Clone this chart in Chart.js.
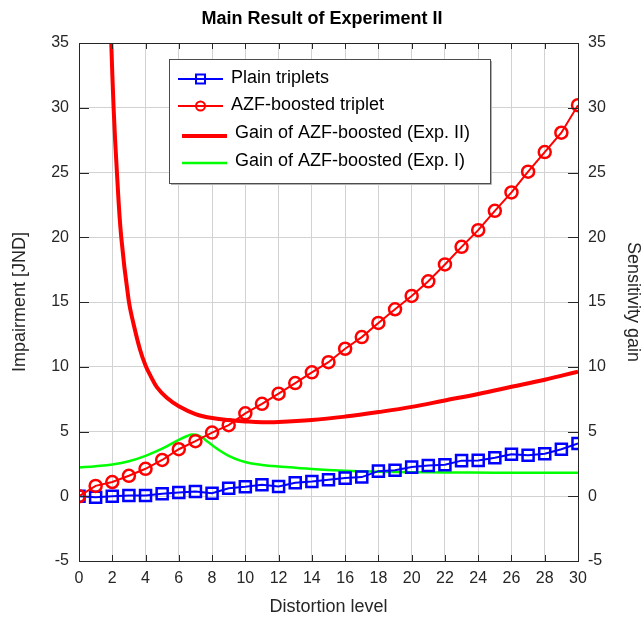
<!DOCTYPE html>
<html>
<head>
<meta charset="utf-8">
<title>Main Result of Experiment II</title>
<script src="https://cdn.jsdelivr.net/npm/chart.js@4.4.1/dist/chart.umd.min.js"></script>
<style>
  html, body { margin: 0; padding: 0; background: #fff; }
  #wrap { width: 644px; height: 617px; position: relative; }
</style>
</head>
<body>
<div id="wrap"><canvas id="resultChart"></canvas></div>
<script>
// distortion levels tested
const levels = [0, 1, 2, 3, 4, 5, 6, 7, 8, 9, 10, 11, 12, 13, 14, 15, 16, 17, 18, 19, 20, 21, 22, 23, 24, 25, 26, 27, 28, 29, 30];

// impairment [JND] per level
const plainTriplets = [0, -0.08, 0, 0.05, 0.05, 0.19, 0.29, 0.36, 0.24, 0.62, 0.73, 0.88, 0.75, 1.04, 1.14, 1.27, 1.4, 1.48, 1.94, 2.0, 2.25, 2.38, 2.43, 2.75, 2.77, 2.98, 3.24, 3.16, 3.29, 3.63, 4.07];
const azfTriplet = [0, 0.8, 1.1, 1.58, 2.12, 2.8, 3.63, 4.25, 4.92, 5.49, 6.4, 7.14, 7.92, 8.74, 9.57, 10.35, 11.39, 12.29, 13.38, 14.44, 15.47, 16.6, 17.9, 19.26, 20.55, 22.04, 23.46, 25.06, 26.58, 28.07, 30.2];

// sensitivity gain curves (right axis)
const gainExp2Levels = [1.94, 2.08, 2.28, 2.54, 2.98, 3.28, 3.68, 4.0, 4.3, 4.68, 5.28, 6, 7, 8, 9.3, 10, 11, 12, 14, 16, 18, 20, 22, 24, 26, 28, 30];
const gainExp2 = [35, 30, 25, 20, 15.2, 13.3, 11.27, 10.1, 9.3, 8.43, 7.6, 6.95, 6.35, 6.04, 5.85, 5.78, 5.72, 5.73, 5.88, 6.15, 6.5, 6.9, 7.4, 7.9, 8.45, 9.0, 9.62];
const gainExp1Levels = [0, 1, 2, 3, 4, 5, 6, 6.5, 6.8, 7.2, 7.6, 8, 8.5, 9, 9.7, 10.3, 11, 12, 14, 16, 18, 20, 22, 25, 30];
const gainExp1 = [2.22, 2.32, 2.45, 2.7, 3.12, 3.67, 4.36, 4.65, 4.76, 4.68, 4.35, 3.95, 3.5, 3.12, 2.75, 2.55, 2.42, 2.3, 2.1, 1.97, 1.9, 1.86, 1.84, 1.82, 1.81];

const yTicks = [-5, 0, 5, 10, 15, 20, 25, 30, 35];

const pairs = (xs, ys) => xs.map((x, i) => ({x: x, y: ys[i]}));

const FONT = '"Liberation Sans", Arial, Helvetica, sans-serif';
Chart.defaults.font.family = FONT;
Chart.defaults.font.size = 16;
Chart.defaults.color = '#262626';

// box around the plot with ticks pointing inwards
const framePlugin = {
  id: 'frame',
  afterDatasetsDraw(chart) {
    const {ctx, chartArea: a, scales} = chart;
    ctx.save();
    ctx.strokeStyle = '#262626';
    ctx.lineWidth = 1;
    ctx.beginPath();
    scales.x.ticks.forEach(t => {
      const px = Math.round(scales.x.getPixelForValue(t.value)) + 0.5;
      ctx.moveTo(px, a.bottom); ctx.lineTo(px, a.bottom - 6);
      ctx.moveTo(px, a.top); ctx.lineTo(px, a.top + 6);
    });
    scales.y.ticks.forEach(t => {
      const py = Math.round(scales.y.getPixelForValue(t.value)) + 0.5;
      ctx.moveTo(a.left, py); ctx.lineTo(a.left + 10, py);
    });
    scales.y2.ticks.forEach(t => {
      const py = Math.round(scales.y2.getPixelForValue(t.value)) + 0.5;
      ctx.moveTo(a.right, py); ctx.lineTo(a.right - 10, py);
    });
    ctx.stroke();
    ctx.strokeRect(Math.round(a.left) + 0.5, Math.round(a.top) + 0.5,
      Math.round(a.right - a.left), Math.round(a.bottom - a.top));
    ctx.restore();
  }
};

// legend box drawn inside the plot area
const insideLegend = {
  id: 'insideLegend',
  afterDraw(chart) {
    const {ctx, chartArea: a} = chart;
    const bx = a.left + 90, by = a.top + 16, bw = 321, bh = 124;
    const rows = [
      {dy: 19, lineY: 20, x0: 99, x1: 144, tx: 152},
      {dy: 46, lineY: 47, x0: 99, x1: 144, tx: 152},
      {dy: 74, lineY: 77, x0: 103, x1: 148, tx: 156},
      {dy: 102, lineY: 104, x0: 103, x1: 148, tx: 156}
    ];
    ctx.save();
    ctx.fillStyle = '#fff';
    ctx.fillRect(bx, by, bw, bh);
    ctx.strokeStyle = '#b0b0b0';
    ctx.lineWidth = 1;
    ctx.beginPath();
    ctx.moveTo(bx + bw + 1.5, by + 2); ctx.lineTo(bx + bw + 1.5, by + bh + 1.5); ctx.lineTo(bx + 2, by + bh + 1.5);
    ctx.stroke();
    ctx.strokeStyle = '#4d4d4d';
    ctx.strokeRect(bx + 0.5, by + 0.5, bw, bh);
    ctx.font = '18px ' + FONT;
    ctx.textBaseline = 'middle';
    chart.data.datasets.forEach((ds, i) => {
      const r = rows[i];
      const ly = by + r.lineY;
      ctx.strokeStyle = ds.borderColor;
      ctx.lineWidth = ds.borderWidth;
      ctx.beginPath();
      ctx.moveTo(a.left + r.x0, ly); ctx.lineTo(a.left + r.x1, ly);
      ctx.stroke();
      const mx = a.left + (r.x0 + r.x1) / 2;
      ctx.lineWidth = 2;
      if (ds.pointStyle === 'rect') {
        ctx.strokeRect(mx - 4.5, ly - 4.5, 9, 9);
      } else if (ds.pointStyle === 'circle') {
        ctx.beginPath();
        ctx.arc(mx, ly, 4.5, 0, Math.PI * 2);
        ctx.stroke();
      }
      ctx.fillStyle = '#000';
      ctx.fillText(ds.label, a.left + r.tx, by + r.dy);
    });
    ctx.restore();
  }
};

const ctx = document.getElementById('resultChart');
new Chart(ctx, {
  type: 'line',
  data: {
    datasets: [{
      label: 'Plain triplets',
      data: pairs(levels, plainTriplets),
      yAxisID: 'y',
      order: 1,
      borderColor: '#0000ff',
      backgroundColor: 'rgba(0,0,0,0)',
      borderWidth: 2,
      pointStyle: 'rect',
      pointRadius: 7.8,
      pointBorderWidth: 2.5,
      pointHoverRadius: 7.8
    }, {
      label: 'AZF-boosted triplet',
      data: pairs(levels, azfTriplet),
      yAxisID: 'y',
      order: 0,
      borderColor: '#ff0000',
      backgroundColor: 'rgba(0,0,0,0)',
      borderWidth: 2,
      pointStyle: 'circle',
      pointRadius: 6,
      pointBorderWidth: 2.5,
      pointHoverRadius: 6
    }, {
      label: 'Gain of AZF-boosted (Exp. II)',
      data: pairs(gainExp2Levels, gainExp2),
      yAxisID: 'y2',
      order: 2,
      borderColor: '#ff0000',
      borderWidth: 4,
      pointRadius: 0,
      tension: 0.4
    }, {
      label: 'Gain of AZF-boosted (Exp. I)',
      data: pairs(gainExp1Levels, gainExp1),
      yAxisID: 'y2',
      order: 3,
      borderColor: '#00ff00',
      borderWidth: 2.5,
      pointRadius: 0,
      tension: 0.4
    }]
  },
  options: {
    responsive: true,
    maintainAspectRatio: false,
    animation: false,
    layout: { padding: 0 },
    plugins: {
      legend: { display: false },
      tooltip: { enabled: false },
      title: {
        display: true,
        text: 'Main Result of Experiment II',
        color: '#000',
        font: { size: 18, weight: 'bold' },
        padding: { top: 8, bottom: 13.4 }
      }
    },
    scales: {
      x: {
        type: 'linear',
        min: 0,
        max: 30,
        ticks: { stepSize: 2, padding: 8, maxRotation: 0, autoSkip: false },
        grid: { color: '#d2d2d2', drawTicks: false },
        border: { display: false },
        title: { display: true, text: 'Distortion level', font: { size: 18 }, padding: { top: 0, bottom: -1 } },
        afterFit(scale) { scale.height = 56; }
      },
      y: {
        position: 'left',
        min: -5,
        max: 35,
        afterBuildTicks(scale) { scale.ticks = yTicks.map(v => ({value: v})); },
        ticks: { padding: 10 },
        grid: { color: '#d2d2d2', drawTicks: false },
        border: { display: false },
        title: { display: true, text: 'Impairment [JND]', font: { size: 18 }, padding: { top: 9, bottom: 0 } },
        afterFit(scale) { scale.width = 79; }
      },
      y2: {
        position: 'right',
        min: -5,
        max: 35,
        afterBuildTicks(scale) { scale.ticks = yTicks.map(v => ({value: v})); },
        ticks: { padding: 10 },
        grid: { display: false, drawTicks: false },
        border: { display: false },
        title: { display: true, text: 'Sensitivity gain', font: { size: 18 }, padding: { top: 0, bottom: 0 } },
        afterFit(scale) { scale.width = 66; }
      }
    }
  },
  plugins: [framePlugin, insideLegend]
});
</script>
</body>
</html>
